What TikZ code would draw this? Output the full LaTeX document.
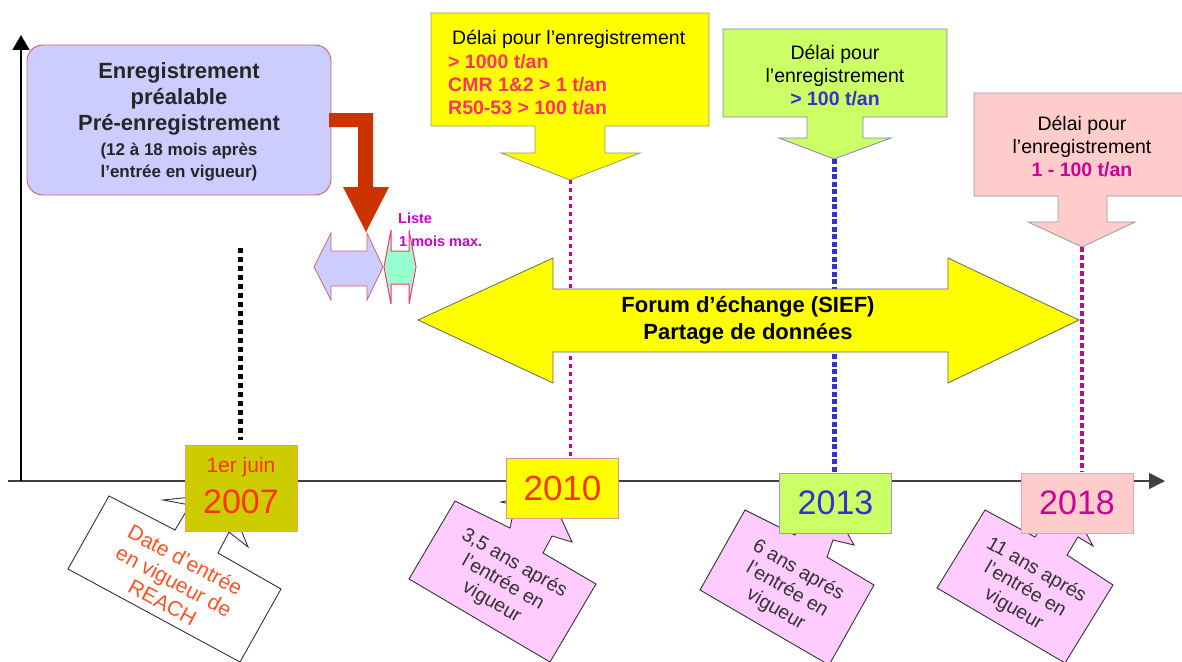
\documentclass[tikz,border=0pt]{standalone}
\usepackage{fontspec}
\setmainfont{Liberation Sans}
\usetikzlibrary{arrows.meta}
\definecolor{lav}{HTML}{CCCCFF}
\definecolor{lavb}{HTML}{CC6666}
\definecolor{yel}{HTML}{FFFF00}
\definecolor{yelb}{HTML}{999966}
\definecolor{grn}{HTML}{CCFF66}
\definecolor{grnb}{HTML}{8080CC}
\definecolor{pnk}{HTML}{FFCCCC}
\definecolor{pnkb}{HTML}{999999}
\definecolor{olv}{HTML}{CCCC00}
\definecolor{olvb}{HTML}{FF9966}
\definecolor{calpink}{HTML}{FFCCFF}
\definecolor{redarr}{HTML}{CC3300}
\definecolor{mint}{HTML}{99FFCC}
\definecolor{mintb}{HTML}{FF3377}
\definecolor{txtred}{HTML}{FF3366}
\definecolor{txtblue}{HTML}{3333CC}
\definecolor{txtmag}{HTML}{CC0099}
\definecolor{txtorange}{HTML}{FF3300}
\definecolor{listec}{HTML}{CC00CC}
\definecolor{darktxt}{HTML}{333333}
\newcommand{\fsz}[2]{\fontsize{#1}{#2}\selectfont}
\begin{document}
\begin{tikzpicture}[x=1pt,y=-1pt,
  every node/.style={inner sep=0pt, align=center},
  yearbox/.style={draw, line width=0.8pt, minimum width=112pt, minimum height=60pt},
  callout/.style={draw=darktxt, line width=0.9pt, fill=calpink, line join=miter},
  caltext/.style={rotate=-30, text=darktxt, font=\fsz{19.5}{22.5}},
  blackdots/.style={line width=5pt, dash pattern=on 5pt off 4pt, black},
  magthin/.style={line width=3pt, dash pattern=on 4pt off 4pt, txtmag},
  bluedots/.style={line width=5pt, dash pattern=on 5pt off 2.5pt, txtblue},
  magthick/.style={line width=4pt, dash pattern=on 5pt off 3pt, txtmag},
  delaitext/.style={font=\fsz{19.5}{23}}
]
\useasboundingbox (0,0) rectangle (1182,661);
\fill[white] (0,0) rectangle (1182,661);

% axes
\coordinate (origin) at (21,481);
\coordinate (ytop) at (21,35);
\coordinate (xleft) at (8,481);
\coordinate (xright) at (1165,481);
\draw[line width=1.5pt, black!75, -{Triangle[length=16pt,width=16pt]}] (xleft) -- (xright);
\draw[line width=1.5pt, black, -{Triangle[length=15pt,width=17pt]}] (origin) -- (ytop);

% deadline callouts (box + down arrow)
\draw[fill=yel, draw=yelb, line width=0.8pt] (431,13) -- (709,13) -- (709,126) -- (605,126) -- (605,153) -- (640,153) -- (570,180) -- (501,153) -- (535,153) -- (535,126) -- (431,126) -- cycle;
\coordinate (tip10) at (570,180);
\node[delaitext, anchor=west, align=left] (d10) at (448,73)
  {\hspace*{4pt}Délai pour l’enregistrement\\[1pt]
   {\color{txtred}\bfseries > 1000 t/an}\\
   {\color{txtred}\bfseries CMR 1\&2 > 1 t/an}\\
   {\color{txtred}\bfseries R50-53 > 100 t/an}};

\draw[fill=grn, draw=grnb, line width=0.8pt] (723,29) -- (947,29) -- (947,117) -- (863,117) -- (863,138) -- (891,138) -- (834,159) -- (779,138) -- (807,138) -- (807,117) -- (723,117) -- cycle;
\coordinate (tip13) at (834,159);
\node[delaitext] (d13) at (835,76)
  {Délai pour\\l’enregistrement\\{\color{txtblue}\bfseries > 100 t/an}};

\draw[fill=pnk, draw=pnkb, line width=0.8pt] (974,93) -- (1188,93) -- (1188,196) -- (1107,196) -- (1107,222) -- (1135,222) -- (1082,247) -- (1028,222) -- (1058,222) -- (1058,196) -- (974,196) -- cycle;
\coordinate (tip18) at (1082,247);
\node[delaitext] (d18) at (1082,147)
  {Délai pour\\l’enregistrement\\{\color{txtmag}\bfseries 1 - 100 t/an}};

% year boxes (positions)
\coordinate (top07) at (240,248);

% dotted lines
\draw[blackdots] (top07) -- (240,440);
\draw[magthin] (tip10) -- (570,457);
\draw[bluedots] (tip13) -- (834,472);
\draw[magthick] (tip18) -- (1082,472);

% SIEF double arrow
\draw[fill=yel, draw=black!60, line width=0.8pt] (418,320) -- (553,258) -- (553,289) -- (948,289) -- (948,258) -- (1079,320) -- (948,383) -- (948,352) -- (553,352) -- (553,383) -- cycle;
\node[font=\fsz{22}{27}\bfseries] (sief) at (748,320) {Forum d’échange (SIEF)\\Partage de données};

% pre-registration box
\node[draw=lavb, fill=lav, line width=0.9pt, rounded corners=16pt, minimum width=304pt, minimum height=150pt] (prereg) at (179,120) {};
\node[font=\fsz{22}{26}\bfseries, text=black!85] (preregA) at (179,99) {Enregistrement\\préalable\\Pré-enregistrement};
\node[font=\fsz{17}{22}\bfseries, text=black!85] (preregB) at (179,162) {(12 à 18 mois après\\l’entrée en vigueur)};

% small arrows
\draw[fill=lav, draw=lavb, line width=0.8pt] (314,267) -- (331,233) -- (331,251) -- (367,251) -- (367,233) -- (383,267) -- (367,300) -- (367,286) -- (331,286) -- (331,300) -- cycle;
\draw[fill=mint, draw=mintb, line width=1pt] (384,267) -- (391,230) -- (391,251) -- (409,251) -- (409,230) -- (416,267) -- (409,304) -- (409,284) -- (391,284) -- (391,304) -- cycle;
\node[anchor=west, font=\fsz{14.5}{17}\bfseries, text=listec] (liste) at (398,218) {Liste};
\node[anchor=west, font=\fsz{14.5}{17}\bfseries, text=listec] (mois) at (399,241) {1 mois max.};

% red L arrow
\fill[redarr] (329,113) -- (373,113) -- (373,187) -- (389,187) -- (366,232) -- (343,187) -- (358,187) -- (358,127) -- (329,127) -- cycle;

% rotated callouts below the axis
\draw[draw=darktxt, line width=0.9pt, fill=white] (109,496) -- (175,530) -- (190,505) -- (163,500) -- (192,497) -- (235,515) -- (248,547) -- (229,532) -- (218,553) -- (281,589) -- (240,662) -- (68,569) -- cycle;
\node[rotate=-28, text=txtorange!85, font=\fsz{21}{24}] (c07) at (174,581) {Date d’entrée\\en vigueur de\\REACH};

\draw[callout] (455,501) -- (510,528) -- (515,505) -- (501,502) -- (515,499) -- (555,505) -- (572,542) -- (552,536) -- (543,553) -- (596,584) -- (550,662) -- (409,579) -- cycle;
\node[caltext] (c10) at (503,583) {3,5 ans aprés\\l’entrée en\\vigueur};

\draw[callout] (745,510) -- (795,535) -- (805,520) -- (840,520) -- (854,545) -- (833,540) -- (827,557) -- (874,585) -- (829,665) -- (700,590) -- cycle;
\node[caltext] (c13) at (787,590) {6 ans aprés\\l’entrée en\\vigueur};

\draw[callout] (985,510) -- (1035,537) -- (1045,520) -- (1079,520) -- (1093,546) -- (1078,537) -- (1067,555) -- (1113,585) -- (1065,663) -- (937,588) -- cycle;
\node[caltext] (c18) at (1025,590) {11 ans aprés\\l’entrée en\\vigueur};

% year boxes
\node[yearbox, fill=olv, draw=olvb, minimum height=86pt] (y07) at (241,488) {};
\node[font=\fsz{21}{24}, text=txtorange] (y07a) at (241,467) {1er juin};
\node[font=\fsz{34}{38}, text=txtorange] (y07b) at (241,502) {2007};
\node[yearbox, fill=yel, draw=lavb!70] (y10) at (562.5,488) {};
\node[font=\fsz{35}{38}, text=txtorange] (y10a) at (562.5,488) {2010};
\node[yearbox, fill=grn, draw=grnb!80] (y13) at (835.5,503) {};
\node[font=\fsz{34}{38}, text=txtblue] (y13a) at (835.5,503) {2013};
\node[yearbox, fill=pnk, draw=mintb!50] (y18) at (1077,503) {};
\node[font=\fsz{34}{38}, text=txtmag] (y18a) at (1077,503) {2018};
\end{tikzpicture}
\end{document}
